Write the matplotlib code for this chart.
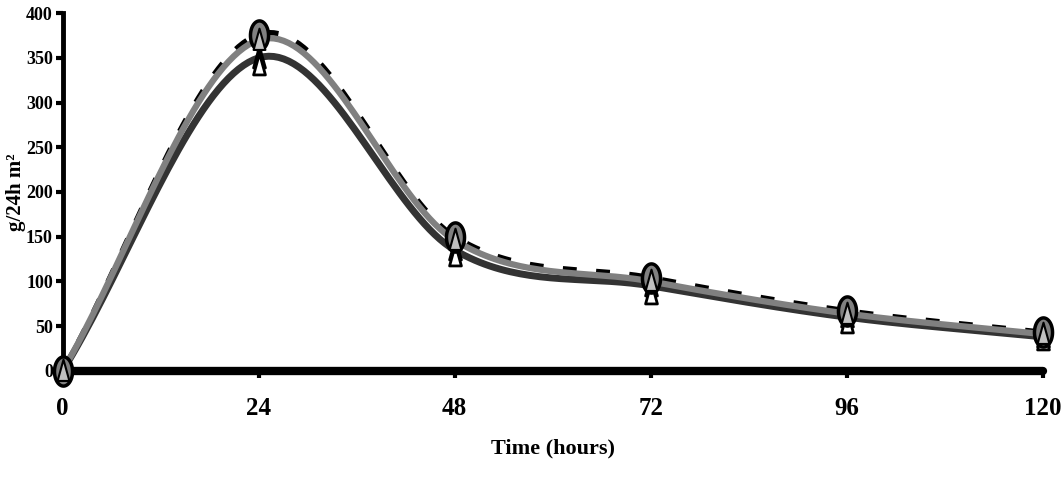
import numpy as np
import matplotlib

matplotlib.use("agg")
import matplotlib.pyplot as plt
from matplotlib.path import Path

hours = [0, 24, 48, 72, 96, 120]
y_ticks = [0, 50, 100, 150, 200, 250, 300, 350, 400]

# four treatments, g/24h m2
series_a = [0, 350, 135, 95, 60, 38]   # dark line, black triangles
series_b = [0, 370, 146, 100, 64, 41]  # grey line, light grey triangles
series_c = [0, 376, 150, 104, 67, 43]  # dashed line, grey circles
series_d = [0, 342, 128, 86, 54, 34]   # white triangles


# excel style smoothed line (catmull-rom through the points)
def smooth(xs, ys, n=40):
    x = np.asarray(xs, float)
    y = np.asarray(ys, float)
    px = np.concatenate([[2 * x[0] - x[1]], x, [2 * x[-1] - x[-2]]])
    py = np.concatenate([[2 * y[0] - y[1]], y, [2 * y[-1] - y[-2]]])
    out_x, out_y = [], []
    t = np.linspace(0, 1, n)
    for i in range(1, len(px) - 2):
        for p, out in ((px, out_x), (py, out_y)):
            p0, p1, p2, p3 = p[i - 1], p[i], p[i + 1], p[i + 2]
            out.extend(0.5 * (2 * p1 + (-p0 + p2) * t
                              + (2 * p0 - 5 * p1 + 4 * p2 - p3) * t ** 2
                              + (-p0 + 3 * p1 - 3 * p2 + p3) * t ** 3))
    return out_x, out_y


# tall ellipse / triangle markers, the old excel charts squash them
ang = np.linspace(0, 2 * np.pi, 60)
ellipse = Path(np.column_stack([0.62 * np.cos(ang), np.sin(ang)]), closed=True)
tall_tri = Path([(0, 1), (-0.5, -0.8), (0.5, -0.8), (0, 1)], closed=True)

fig = plt.figure(figsize=(10.61, 4.86), dpi=100)
ax = fig.add_axes([0.059, 0.237, 0.924, 0.736])

sx, sy = smooth(hours, series_c)
ax.plot(sx, sy, color="black", lw=4, ls=(0, (2.5, 3.5)), zorder=2)
sx, sy = smooth(hours, series_a)
ax.plot(sx, sy, color="#333333", lw=5, zorder=3)
sx, sy = smooth(hours, series_b)
ax.plot(sx, sy, color="#808080", lw=4.5, zorder=4)

ax.plot(hours, series_a, ls="none", marker=tall_tri, ms=17, mfc="black", mec="black",
        mew=2, clip_on=False, zorder=5)
ax.plot(hours, series_d, ls="none", marker=tall_tri, ms=17, mfc="white", mec="black",
        mew=2, clip_on=False, zorder=6)
ax.plot(hours, series_c, ls="none", marker=ellipse, ms=21, mfc="#808080", mec="black",
        mew=2.5, clip_on=False, zorder=7)
ax.plot(hours, series_b, ls="none", marker=tall_tri, ms=17, mfc="#c0c0c0", mec="black",
        mew=1.5, clip_on=False, zorder=8)

ax.set_xlim(0, 120)
ax.set_ylim(0, 400)
ax.set_xticks(hours)
ax.set_yticks(y_ticks)

for s in ("top", "right"):
    ax.spines[s].set_visible(False)
ax.spines["bottom"].set_linewidth(6)
ax.spines["left"].set_linewidth(3.5)
ax.spines["bottom"].set_capstyle("round")

font = dict(family="Liberation Serif", weight="bold")
ax.tick_params(axis="both", direction="out", length=5, width=3, pad=2)
ax.set_xticklabels([str(h) for h in hours], fontsize=18, **font)
ax.set_yticklabels([str(v) for v in y_ticks], fontsize=13, **font)
ax.tick_params(axis="x", pad=14)

ax.set_ylabel("g/24h m²", fontsize=15, **font)
ax.yaxis.set_label_coords(-0.037, 0.5)
ax.set_xlabel("Time (hours)", fontsize=16, **font)
ax.xaxis.set_label_coords(0.5, -0.19)

fig.savefig("out.png", dpi=100)
